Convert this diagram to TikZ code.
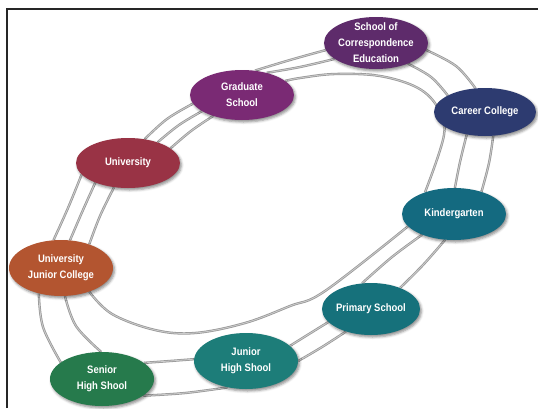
\documentclass[tikz,border=0pt]{standalone}
\usepackage{fontspec}
\newfontfamily\labfont[FakeStretch=0.88]{Liberation Sans}
\usetikzlibrary{shapes.geometric,shadows.blur}
\pgfdeclarelayer{bg}
\pgfsetlayers{bg,main}
\definecolor{socc}{HTML}{5E2B6B}
\definecolor{gradc}{HTML}{7A2A74}
\definecolor{unic}{HTML}{993345}
\definecolor{ujcc}{HTML}{B35530}
\definecolor{shsc}{HTML}{267A4C}
\definecolor{jhsc}{HTML}{1D7D79}
\definecolor{pric}{HTML}{16717B}
\definecolor{kinc}{HTML}{146A80}
\definecolor{carc}{HTML}{2D3B70}
\tikzset{
  school/.style={ellipse, draw=none, inner sep=0pt, minimum width=104pt, minimum height=52pt,
    blur shadow={shadow xshift=1.5pt, shadow yshift=-2pt, shadow blur radius=2.5pt, shadow opacity=45}},
  txt/.style={text=white, align=center, font=\labfont\bfseries\fontsize{10.8}{16}\selectfont, inner sep=0pt},
  ring/.style={draw=black!40, double=black!20, double distance=0.8pt, line width=0.8pt},
  frameline/.style={draw=black!85, line width=1.3pt}
}
\begin{document}
\begin{tikzpicture}[x=1pt,y=-1pt]
\useasboundingbox (0,0) rectangle (538,408);
\draw[frameline] (7,408) -- (7,9) -- (538,9);
% nodes
\node[school, fill=socc] (soc) at (376,43) {};
\node[school, fill=carc, minimum width=102pt, minimum height=48pt] (car) at (485,112) {};
\node[school, fill=gradc, minimum height=50pt] (grad) at (242,95) {};
\node[school, fill=unic, minimum height=50pt] (uni) at (128,163) {};
\node[school, fill=kinc] (kin) at (454,214) {};
\node[school, fill=ujcc, minimum height=56pt] (ujc) at (61,268) {};
\node[school, fill=pric, minimum width=98pt] (pri) at (371,309) {};
\node[school, fill=jhsc, minimum height=56pt] (jhs) at (246,361) {};
\node[school, fill=shsc, minimum height=54pt] (shs) at (102,379) {};
\node[txt] (soct) at (soc) {School of\\Correspondence\\Education};
\node[txt] (cart) at (car) {Career College};
\node[txt] (gradt) at (grad) {Graduate\\School};
\node[txt] (unit) at (uni) {University};
\node[txt] (kint) at (kin) {Kindergarten};
\node[txt] (ujct) at (ujc) {University\\Junior College};
\node[txt] (prit) at (pri) {Primary School};
\node[txt] (jhst) at (jhs) {Junior\\High Shool};
\node[txt] (shst) at (shs) {Senior\\High Shool};
\begin{pgfonlayer}{bg}
% University -> University Junior College
\draw[ring] plot[smooth,tension=0.6] coordinates {(uni.194) (68,208) (ujc.105)};
\draw[ring] plot[smooth,tension=0.6] coordinates {(uni.211) (83,210) (ujc.72)};
\draw[ring] plot[smooth,tension=0.6] coordinates {(uni.240) (100,216) (ujc.40)};
% University -> Graduate School
\draw[ring] plot[smooth,tension=0.6] coordinates {(uni.55) (167,119) (grad.190)};
\draw[ring] plot[smooth,tension=0.6] coordinates {(uni.35) (179,125) (grad.202)};
\draw[ring] plot[smooth,tension=0.6] coordinates {(uni.19) (191,131) (grad.216)};
% Graduate School -> School of Correspondence Education
\draw[ring] plot[smooth,tension=0.6] coordinates {(grad.62) (290,60) (soc.188)};
\draw[ring] plot[smooth,tension=0.6] coordinates {(grad.42) (300,67) (soc.201)};
% inner ring: Graduate School -> Kindergarten
\draw[ring] plot[smooth,tension=0.6] coordinates {(grad.18) (300,78) (335,74) (380,76) (418,88) (438,108) (444,135) (kin.143)};
% School of Correspondence Education -> Career College
\draw[ring] plot[smooth,tension=0.6] coordinates {(soc.352) (456,66) (car.112)};
\draw[ring] plot[smooth,tension=0.6] coordinates {(soc.327) (431,77) (car.156)};
% Career College -> Kindergarten
\draw[ring] plot[smooth,tension=0.6] coordinates {(car.231) (460,162) (kin.88)};
\draw[ring] plot[smooth,tension=0.6] coordinates {(car.289) (489,163) (kin.39)};
% Kindergarten -> Primary School
\draw[ring] plot[smooth,tension=0.6] coordinates {(kin.213) (392,257) (pri.109)};
\draw[ring] plot[smooth,tension=0.6] coordinates {(kin.251) (423,265) (pri.36)};
% Primary School -> Junior High Shool
\draw[ring] plot[smooth,tension=0.6] coordinates {(pri.197) (309,334) (jhs.19)};
\draw[ring] plot[smooth,tension=0.6] coordinates {(pri.222) (322,347) (jhs.0)};
% Junior High Shool -> Senior High Shool
\draw[ring] plot[smooth,tension=0.6] coordinates {(jhs.178) (170,361) (shs.21)};
\draw[ring] plot[smooth,tension=0.6] coordinates {(jhs.235) (185,393) (shs.338)};
% Senior High Shool -> University Junior College
\draw[ring] plot[smooth,tension=0.6] coordinates {(ujc.229) (43,327) (shs.158)};
\draw[ring] plot[smooth,tension=0.6] coordinates {(ujc.278) (76,326) (shs.92)};
% inner ring: University Junior College -> Kindergarten
\draw[ring] plot[smooth,tension=0.6] coordinates {(ujc.320) (112,314) (155,330) (195,333) (245,323) (290,306) (325,291) (kin.195)};
\end{pgfonlayer}
\end{tikzpicture}
\end{document}
